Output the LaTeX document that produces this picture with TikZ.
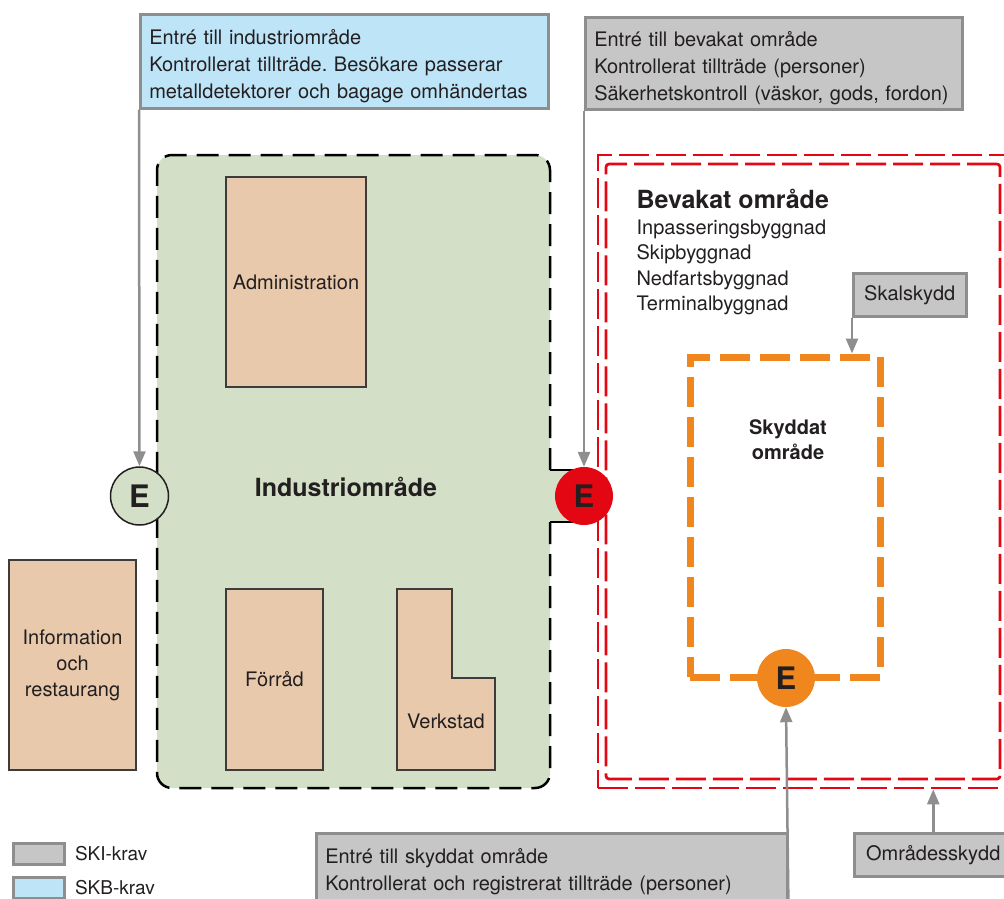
\documentclass[tikz,border=0pt]{standalone}
\usepackage{fontspec}
\setmainfont{TeX Gyre Heros}
\usetikzlibrary{arrows.meta,positioning}
\definecolor{omrgreen}{HTML}{D3DFC6}
\definecolor{byggfill}{HTML}{E8C9AB}
\definecolor{byggline}{HTML}{3C3C3C}
\definecolor{skigrey}{HTML}{C6C6C6}
\definecolor{skbblue}{HTML}{BEE4F8}
\definecolor{kravline}{HTML}{8E8E8E}
\definecolor{bevred}{HTML}{E30613}
\definecolor{skyorange}{HTML}{F0861E}
\definecolor{textdark}{HTML}{231F20}
\frenchspacing

\begin{document}
\begin{tikzpicture}[x=1pt,y=-1pt,text=textdark,
  font=\fontsize{20}{27}\selectfont,
  krav/.style={draw=kravline,line width=2.5pt,fill=skigrey,align=left,inner xsep=9pt,anchor=north west},
  bygg/.style={draw=byggline,line width=1.5pt,fill=byggfill,align=center,font=\fontsize{20}{26}\selectfont},
  entre/.style={circle,minimum size=58pt,inner sep=0pt,font=\fontsize{31}{31}\selectfont\bfseries},
  pil/.style={draw=kravline,line width=2.5pt,-{Triangle[length=15pt,width=12pt]}},
  redkant/.style={draw=bevred,line width=2.7pt,dash pattern=on 30pt off 7pt},
  legtext/.style={font=\fontsize{19}{22}\selectfont}]
\useasboundingbox (0,0) rectangle (1004,898);
% Industriomrade
\fill[omrgreen,rounded corners=15pt] (157,155) rectangle (550,788);
\fill[omrgreen] (548,470) rectangle (594,522);
\draw[line width=2.5pt,dash pattern=on 22pt off 10pt,rounded corners=15pt]
  (550,470) -- (550,155) -- (157,155) -- (157,788) -- (550,788) -- (550,522);
\draw[line width=2.5pt] (550,470) -- (594,470) (550,522) -- (594,522);
\node[font=\fontsize{25}{25}\selectfont\bfseries] at (346,487) {Industriområde};
% Byggnader
\node[bygg,minimum width=140pt,minimum height=210pt] (admin) at (296,282) {Administration};
\node[bygg,minimum width=127pt,minimum height=210pt] (info) at (72.5,665) {Information\\och\\restaurang};
\node[bygg,minimum width=97pt,minimum height=181pt] (forrad) at (274.5,679.5) {Förråd};
\draw[byggline,line width=1.5pt,fill=byggfill]
  (397,589) -- (452,589) -- (452,678) -- (495,678) -- (495,770) -- (397,770) -- cycle;
\node[font=\fontsize{20}{26}\selectfont] (verkstad) at (446,721) {Verkstad};
% Bevakat omrade
\node[redkant,minimum width=412pt,minimum height=633pt] (yttre) at (804,471.5) {};
\node[redkant,minimum width=394pt,minimum height=615pt,rounded corners=3pt] (inre) at (803,471.5) {};
\node[anchor=north west,align=left,font=\fontsize{20}{25.5}\selectfont] (bevtext) at (633,186)
  {{\fontsize{25}{28}\selectfont\bfseries Bevakat område}\\Inpasseringsbyggnad\\Skipbyggnad\\Nedfartsbyggnad\\Terminalbyggnad};
% Skyddat omrade
\node[draw=skyorange,line width=7pt,dash pattern=on 30pt off 10pt,minimum width=190pt,minimum height=320pt] (skyddat) at (785,517) {};
\node[align=center,font=\fontsize{20}{25}\selectfont\bfseries] at (788,440) {Skyddat\\område};
% Entreer
\node[entre,draw=textdark,line width=1.5pt,fill=omrgreen] (E1) at (139.5,496) {E};
\node[entre,fill=bevred] (E2) at (584,496) {E};
\node[entre,fill=skyorange] (E3) at (786,678) {E};
% Krav
\node[krav,fill=skbblue,text width=390pt,minimum height=94pt] (indkrav) at (139,13)
  {\rule{0pt}{25pt}Entré till industriområde\\Kontrollerat tillträde. Besökare passerar\\metalldetektorer och bagage omhändertas};
\node[krav,text width=359pt,minimum height=92pt] (bevkrav) at (584,16)
  {\rule{0pt}{25pt}Entré till bevakat område\\Kontrollerat tillträde (personer)\\Säkerhetskontroll (väskor, gods, fordon)};
\node[krav,minimum width=113pt,minimum height=43pt,align=center] (skal) at (852,272) {Skalskydd};
\node[krav,minimum width=158pt,minimum height=43pt,align=center] (omrskydd) at (853,832) {Områdesskydd};
\node[krav,text width=453pt,minimum height=76pt] (skykrav) at (315,832)
  {Entré till skyddat område\\Kontrollerat och registrerat tillträde (personer)};
\draw[pil] (indkrav.south west) -- (E1.north);
\draw[pil] (bevkrav.south west) -- (E2.north);
\draw[pil] (skal.south west) -- (skal.south west |- skyddat.north);
\draw[pil] (omrskydd.north) -- (omrskydd.north |- yttre.south);
\draw[pil] (skykrav.south east) -- (E3.south);
% Forklaring
\node[krav,minimum width=51pt,minimum height=21pt] (legski) at (12,842) {};
\node[krav,fill=skbblue,minimum width=51pt,minimum height=21pt] (legskb) at (12,876) {};
\node[legtext,right=6pt of legski] {SKI-krav};
\node[legtext,right=6pt of legskb] {SKB-krav};
\end{tikzpicture}
\end{document}
